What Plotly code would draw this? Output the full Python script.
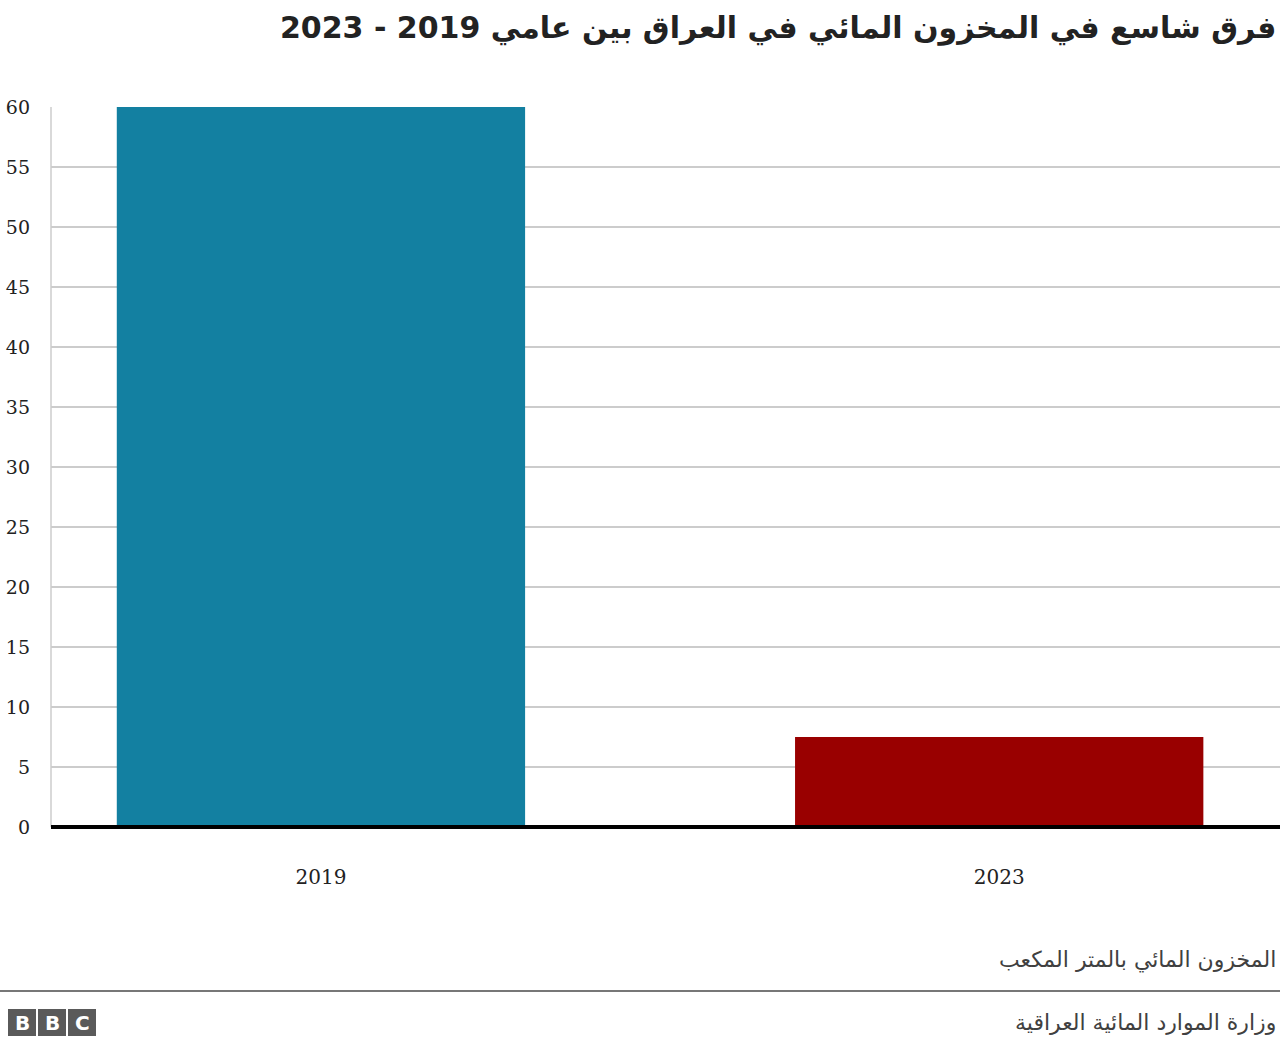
import plotly.graph_objects as go

years = ["2019", "2023"]
values = [60, 7.5]
colors = ["#1380A1", "#990000"]
y_ticks = [0, 5, 10, 15, 20, 25, 30, 35, 40, 45, 50, 55, 60]

title_text = "فرق شاسع في المخزون المائي في العراق بين عامي 2019 - 2023"
subtitle_text = "المخزون المائي بالمتر المكعب"
source_text = "وزارة الموارد المائية العراقية"

W, H = 1280, 1048
L, R, T, B = 51, 0, 107, 221

fig = go.Figure()
fig.add_trace(go.Bar(
    x=years, y=values, marker=dict(color=colors, line=dict(width=0)),
    width=0.602, hoverinfo="x+y",
))

fig.update_layout(
    width=W, height=H, autosize=False,
    margin=dict(l=L, r=R, t=T, b=B, pad=0),
    paper_bgcolor="white", plot_bgcolor="white",
    showlegend=False,
    font=dict(family="DejaVu Serif, Liberation Serif, serif", color="#222222"),
    xaxis=dict(
        type="category", range=[-0.398, 1.414], showgrid=False, zeroline=False,
        showline=False, ticks="", tickfont=dict(size=20, color="#222222",
        family="DejaVu Serif, serif"), ticklabelstandoff=36, fixedrange=True,
    ),
    yaxis=dict(
        range=[0, 60], tickvals=y_ticks, showgrid=True, gridcolor="#cccccc",
        gridwidth=1.5, zeroline=False, showline=False, ticks="",
        tickfont=dict(size=19, color="#222222", family="DejaVu Serif, serif"),
        ticklabelstandoff=20, fixedrange=True,
    ),
)

def px_x(x):
    return (x - L) / (W - L - R)

def px_y(y):
    return (H - B - y) / (H - T - B)

# left axis line (light gray) and zero baseline (black)
fig.add_shape(type="line", xref="paper", yref="paper", x0=0, x1=0, y0=0, y1=1,
              line=dict(color="#cccccc", width=1.5), layer="below")
fig.add_shape(type="line", xref="paper", yref="paper", x0=0, x1=1,
              y0=px_y(827), y1=px_y(827),
              line=dict(color="#000000", width=4))

fig.add_annotation(text="<b>" + title_text + "</b>", xref="paper", yref="paper",
                   x=px_x(1278), y=px_y(28), xanchor="right", yanchor="middle",
                   showarrow=False, font=dict(size=30, color="#222222", family="DejaVu Sans, sans-serif"))
fig.add_annotation(text=subtitle_text, xref="paper", yref="paper",
                   x=px_x(1278), y=px_y(960), xanchor="right", yanchor="middle",
                   showarrow=False, font=dict(size=22, color="#404040", family="DejaVu Sans, sans-serif"))
fig.add_annotation(text=source_text, xref="paper", yref="paper",
                   x=px_x(1278), y=px_y(1022), xanchor="right", yanchor="middle",
                   showarrow=False, font=dict(size=22, color="#404040", family="DejaVu Sans, sans-serif"))

# separator line
fig.add_shape(type="line", xref="paper", yref="paper", x0=px_x(0), x1=px_x(1280),
              y0=px_y(991), y1=px_y(991), line=dict(color="#777777", width=2))

# BBC logo
for i, letter in enumerate(["B", "B", "C"]):
    x0 = 8 + i * 30
    fig.add_shape(type="rect", xref="paper", yref="paper",
                  x0=px_x(x0), x1=px_x(x0 + 28), y0=px_y(1036), y1=px_y(1009),
                  fillcolor="#5a5a5a", line=dict(width=0))
    fig.add_annotation(text="<b>" + letter + "</b>", xref="paper", yref="paper",
                       x=px_x(x0 + 14), y=px_y(1023), xanchor="center", yanchor="middle",
                       showarrow=False, font=dict(size=20, color="white", family="DejaVu Sans, sans-serif"))

fig.write_html("out.html")
